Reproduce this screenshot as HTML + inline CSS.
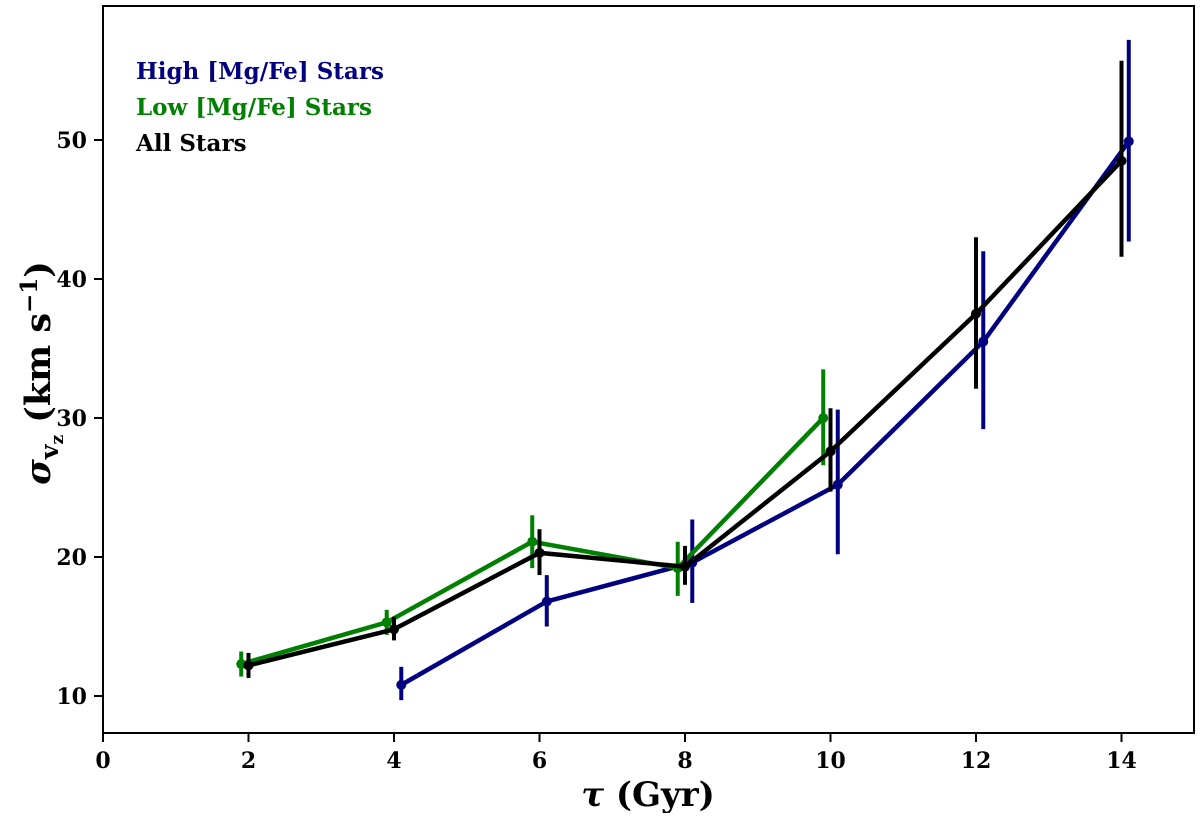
<!DOCTYPE html>
<html><head><meta charset="utf-8"><style>
body{margin:0;background:#fff;}
svg text{font-family:"DejaVu Serif","Liberation Serif",serif;font-weight:bold;}
</style></head><body>
<svg id="chart" width="1200" height="813">
<rect x="0" y="0" width="1200" height="813" fill="#fff"/>
<g id="ticks"></g>
<g id="series"></g>
<rect x="103" y="6" width="1091" height="727" fill="none" stroke="#000" stroke-width="2"/>
<text x="648" y="806" font-size="34" text-anchor="middle"><tspan font-style="italic">τ</tspan> (Gyr)</text>
<text transform="translate(50,373) rotate(-90)" font-size="35" text-anchor="middle"><tspan font-style="italic">σ</tspan><tspan font-size="25" dy="8">v</tspan><tspan font-size="17" dy="5">z</tspan><tspan dy="-13"> (km s</tspan><tspan font-size="23" dy="-13">−1</tspan><tspan dy="13">)</tspan></text>
<text x="136" y="79" font-size="23" fill="#000080">High [Mg/Fe] Stars</text>
<text x="136" y="115" font-size="23" fill="#008000">Low [Mg/Fe] Stars</text>
<text x="136" y="151" font-size="23" fill="#000">All Stars</text>
</svg>
<script>
const xTicks=[0,2,4,6,8,10,12,14];
const yTicks=[10,20,30,40,50];
const highX=[4.1,6.1,8.1,10.1,12.1,14.1];
const highY=[10.8,16.8,19.6,25.2,35.5,49.9];
const highLo=[9.7,15.0,16.7,20.2,29.2,42.7];
const highHi=[12.1,18.7,22.7,30.6,42.0,57.2];
const lowX=[1.9,3.9,5.9,7.9,9.9];
const lowY=[12.3,15.3,21.1,19.2,30.0];
const lowLo=[11.4,14.4,19.2,17.2,26.6];
const lowHi=[13.2,16.2,23.0,21.1,33.5];
const allX=[2,4,6,8,10,12,14];
const allY=[12.2,14.8,20.3,19.3,27.6,37.5,48.5];
const allLo=[11.3,14.0,18.7,18.0,24.7,32.1,41.6];
const allHi=[13.1,15.7,22.0,20.8,30.7,43.0,55.7];
const NS="http://www.w3.org/2000/svg";
function sx(v){return 103+v*72.75;}
function sy(v){return 696-(v-10)*13.9;}
function mk(tag,attrs,parent){const e=document.createElementNS(NS,tag);for(const k in attrs)e.setAttribute(k,attrs[k]);parent.appendChild(e);return e;}
const tg=document.getElementById('ticks');
xTicks.forEach(v=>{
  const l=mk('line',{x1:sx(v),x2:sx(v),y1:733,y2:742,stroke:'#000','stroke-width':2},tg);
  
  
  const t=mk('text',{x:sx(v),y:768,'font-size':22,'text-anchor':'middle'},tg);t.textContent=v;
  
  
});
yTicks.forEach(v=>{
  const l=mk('line',{x1:94,x2:103,y1:sy(v),y2:sy(v),stroke:'#000','stroke-width':2},tg);
  
  
  const t=mk('text',{x:87,y:sy(v)+8,'font-size':22,'text-anchor':'end'},tg);t.textContent=v;
  
  
});
const sg=document.getElementById('series');
function series(xs,ys,lo,hi,color,name){
  const g=mk('g',{},sg);
  
  
  const p=mk('polyline',{points:xs.map((x,i)=>sx(x)+','+sy(ys[i])).join(' '),fill:'none',stroke:color,'stroke-width':4.5},g);
  
  
  xs.forEach((x,i)=>{
    const e=mk('line',{x1:sx(x),x2:sx(x),y1:sy(lo[i]),y2:sy(hi[i]),stroke:color,'stroke-width':4},g);
    
    
    const c=mk('circle',{cx:sx(x),cy:sy(ys[i]),r:5,fill:color},g);
    
    
  });
}
series(highX,highY,highLo,highHi,'#000080','high-mgfe-series');
series(lowX,lowY,lowLo,lowHi,'#008000','low-mgfe-series');
series(allX,allY,allLo,allHi,'#000000','all-stars-series');
</script>
</body></html>
